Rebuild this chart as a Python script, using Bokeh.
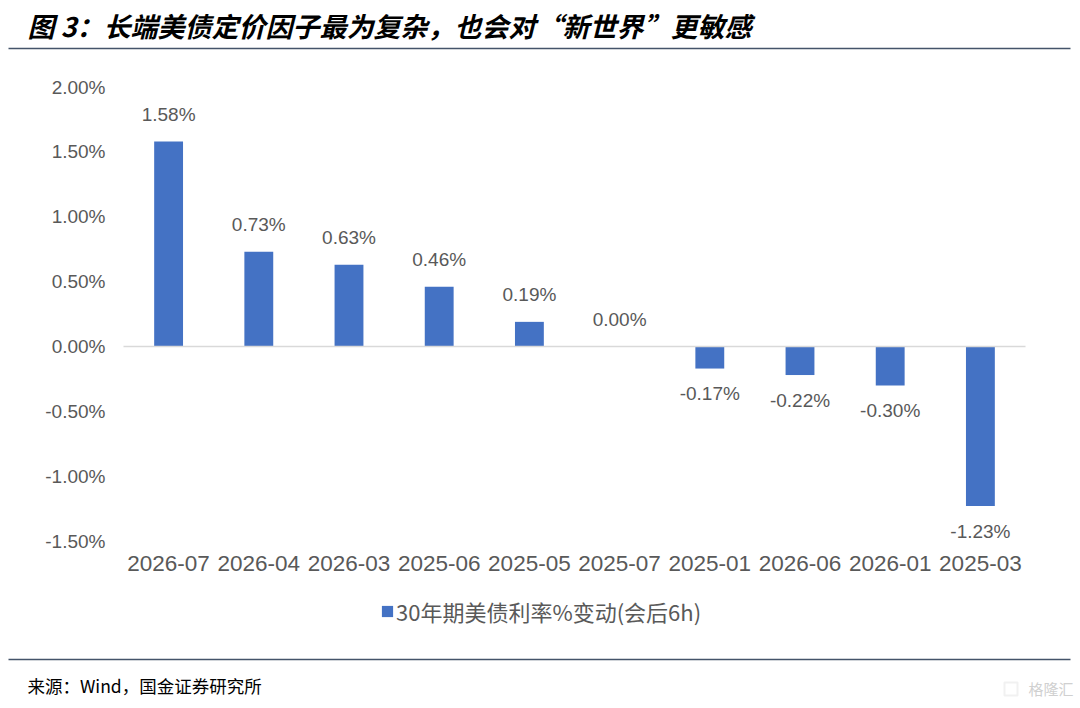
from bokeh.plotting import figure
from bokeh.models import (ColumnDataSource, Range1d, Label, BoxAnnotation,
                          Legend, LegendItem, FixedTicker, CustomJSTickFormatter)
from bokeh.core.properties import value
from bokeh.embed import file_html
from bokeh.resources import INLINE

categories = ["2026-07", "2026-04", "2026-03", "2025-06", "2025-05",
              "2025-07", "2025-01", "2026-06", "2026-01", "2025-03"]
changes = [1.58, 0.73, 0.63, 0.46, 0.19, 0.00, -0.17, -0.22, -0.30, -1.23]
y_ticks = [-1.5, -1.0, -0.5, 0.0, 0.5, 1.0, 1.5, 2.0]
series_name = "30年期美债利率%变动(会后6h)"
title_text = "图 3：长端美债定价因子最为复杂，也会对“新世界”更敏感"
source_text = "来源：Wind，国金证券研究所"
watermark_text = "格隆汇"

BAR = "#4472C4"
GREY = "#595959"
RULE = "#44546A"
FONT = "Liberation Sans"
CJK = "Noto Sans CJK SC"

W, H = 1076, 704
# plot area in canvas pixels
PLOT_L, CAT_W = 123.0, 90.2          # left edge of first category, width per category
ZERO_Y, PX_PER_UNIT = 346.0, 129.7   # canvas y of 0 %, pixels per 1 %
y_lo, y_hi = y_ticks[0], y_ticks[-1]

xs = list(range(len(categories)))
x_start = -PLOT_L / CAT_W - 0.5
x_end = (W - PLOT_L) / CAT_W - 0.5
y_start = (ZERO_Y - H) / PX_PER_UNIT
y_end = ZERO_Y / PX_PER_UNIT

p = figure(width=W, height=H, output_backend="svg", toolbar_location=None,
           x_range=Range1d(x_start, x_end), y_range=Range1d(y_start, y_end),
           min_border=0)
p.outline_line_color = None
p.grid.grid_line_color = None

src = ColumnDataSource(dict(x=xs, val=changes))
r = p.vbar(x="x", top="val", bottom=0, width=0.32, source=src,
           fill_color=BAR, line_color=None)

# zero line across the category area
p.segment(x0=[xs[0] - 0.5], y0=[0], x1=[xs[-1] + 0.5], y1=[0],
          line_color="#D9D9D9", line_width=1.3)

pos = ColumnDataSource(dict(x=[x for x, v in zip(xs, changes) if v >= 0],
                            val=[v for v in changes if v >= 0],
                            lab=["%.2f%%" % v for v in changes if v >= 0]))
neg = ColumnDataSource(dict(x=[x for x, v in zip(xs, changes) if v < 0],
                            val=[v for v in changes if v < 0],
                            lab=["%.2f%%" % v for v in changes if v < 0]))
for s, off in ((pos, -27), (neg, 25)):
    p.text(x="x", y="val", text="lab", source=s, y_offset=off,
           text_align="center", text_baseline="middle",
           text_color=GREY, text_font=value(FONT), text_font_size="19px")

ya = p.yaxis[0]
ya.fixed_location = xs[0] - 0.5
ya.ticker = FixedTicker(ticks=y_ticks)
ya.formatter = CustomJSTickFormatter(code="return tick.toFixed(2) + '%';")
ya.axis_line_color = None
ya.major_tick_line_color = None
ya.minor_tick_line_color = None
ya.major_tick_out = 0
ya.major_tick_in = 0
ya.major_label_standoff = 18
ya.major_label_text_font = FONT
ya.major_label_text_font_size = "19px"
ya.major_label_text_color = GREY

xa = p.xaxis[0]
xa.fixed_location = y_lo
xa.ticker = FixedTicker(ticks=xs)
xa.formatter = CustomJSTickFormatter(args=dict(cats=categories),
                                     code="return cats[Math.round(tick)] || '';")
xa.axis_line_color = None
xa.major_tick_line_color = None
xa.minor_tick_line_color = None
xa.major_tick_out = 0
xa.major_tick_in = 0
xa.major_label_standoff = 15
xa.major_label_text_font = FONT
xa.major_label_text_font_size = "22.5px"
xa.major_label_text_color = GREY

# legend (screen units from the bottom-left of the canvas)
legend = Legend(items=[LegendItem(label=series_name, renderers=[r])],
                location=(380, H - 627), orientation="horizontal",
                glyph_width=14, glyph_height=14, label_standoff=2,
                label_text_font=CJK, label_text_font_size="22px",
                label_text_color=GREY, border_line_color=None,
                background_fill_alpha=0, padding=0, margin=0)
p.add_layout(legend, "center")

p.add_layout(Label(x=27, y=H - 25, x_units="screen", y_units="screen", text=title_text,
                   text_font=CJK, text_font_style="bold italic", text_font_size="27px",
                   text_color="black", text_baseline="middle"))
for yy in (48, 659):
    p.add_layout(BoxAnnotation(left=8, right=1070, bottom=H - yy - 0.8, top=H - yy + 0.8,
                               left_units="screen", right_units="screen",
                               bottom_units="screen", top_units="screen",
                               fill_color=RULE, fill_alpha=1, line_color=None))
p.add_layout(Label(x=27, y=H - 685, x_units="screen", y_units="screen", text=source_text,
                   text_font=CJK, text_font_size="17.5px", text_color="black",
                   text_baseline="middle"))
p.add_layout(BoxAnnotation(left=1004, right=1017, bottom=H - 695, top=H - 682,
                           left_units="screen", right_units="screen",
                           bottom_units="screen", top_units="screen",
                           fill_alpha=0, line_color="#D0D0D0", line_width=2))
p.add_layout(Label(x=1028, y=H - 688, x_units="screen", y_units="screen",
                   text=watermark_text, text_font=CJK, text_font_size="15px",
                   text_color="#D0D0D0", text_baseline="middle"))

open("out.html", "w").write(file_html(p, INLINE))
